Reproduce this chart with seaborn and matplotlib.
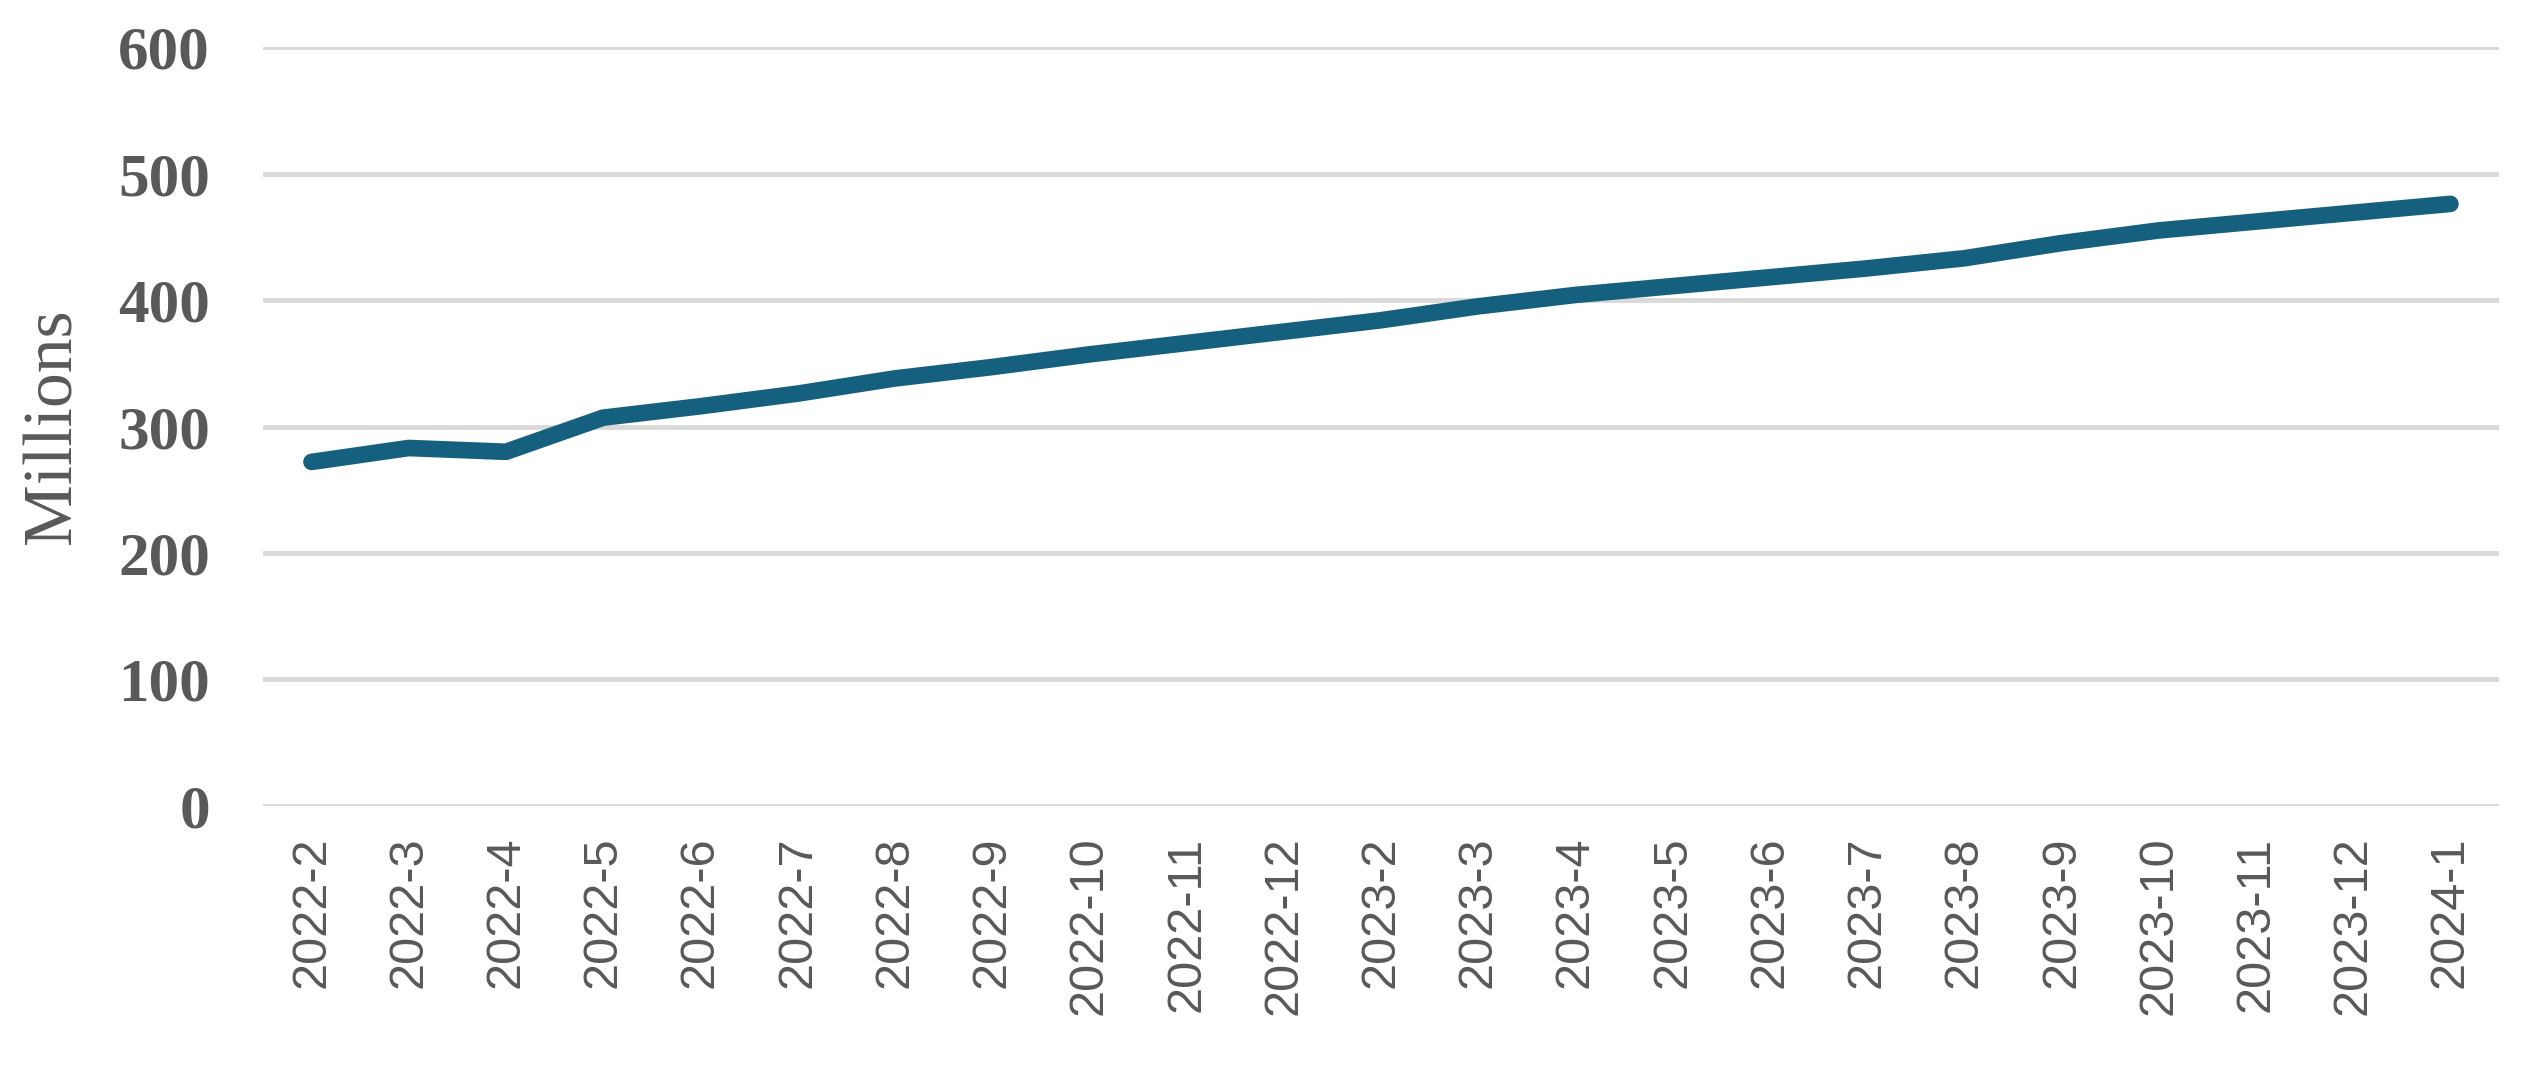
import pandas as pd
import matplotlib
matplotlib.use("Agg")
import matplotlib.pyplot as plt
import seaborn as sns

months = ['2022-2', '2022-3', '2022-4', '2022-5', '2022-6', '2022-7', '2022-8',
          '2022-9', '2022-10', '2022-11', '2022-12', '2023-2', '2023-3', '2023-4',
          '2023-5', '2023-6', '2023-7', '2023-8', '2023-9', '2023-10', '2023-11',
          '2023-12', '2024-1']
values = [272, 283, 280, 307, 316, 326, 338, 347, 357, 366, 375, 384, 395, 404,
          411, 418, 425, 433, 445, 455, 462, 469, 476]
y_ticks = [0, 100, 200, 300, 400, 500, 600]

df = pd.DataFrame({'month': months, 'value': values})

sns.set_style('white')
grey = '#595959'

fig = plt.figure(figsize=(25.23, 10.81), dpi=100)
ax = fig.add_axes([0.1042, 0.2544, 0.8863, 0.7021])

sns.lineplot(data=df, x='month', y='value', sort=False, color='#15607f',
             linewidth=12, ax=ax, solid_capstyle='round', solid_joinstyle='round')

ax.set_ylim(0, 600)
ax.set_xlim(-0.5, len(months) - 0.5)
ax.yaxis.grid(True, color='#d9d9d9', linewidth=3.5)
ax.xaxis.grid(False)
ax.set_axisbelow(True)
for s in ax.spines.values():
    s.set_visible(False)
ax.tick_params(axis='both', length=0)
ax.tick_params(axis='y', pad=38)
ax.tick_params(axis='x', pad=22)

ax.set_yticks(y_ticks)
ax.set_yticklabels([str(t) for t in y_ticks], fontfamily='Liberation Serif',
                   fontweight='bold', fontsize=44, color=grey)
ax.set_xticks(range(len(months)))
ax.set_xticklabels(months, rotation=90, fontfamily='Liberation Sans',
                   fontsize=35, color=grey)

ax.set_xlabel('')
ax.set_ylabel('Millions', fontfamily='Liberation Serif', fontsize=50, color=grey)
ax.yaxis.set_label_coords(-0.0795, 0.50)

fig.savefig('out.png', dpi=100)
